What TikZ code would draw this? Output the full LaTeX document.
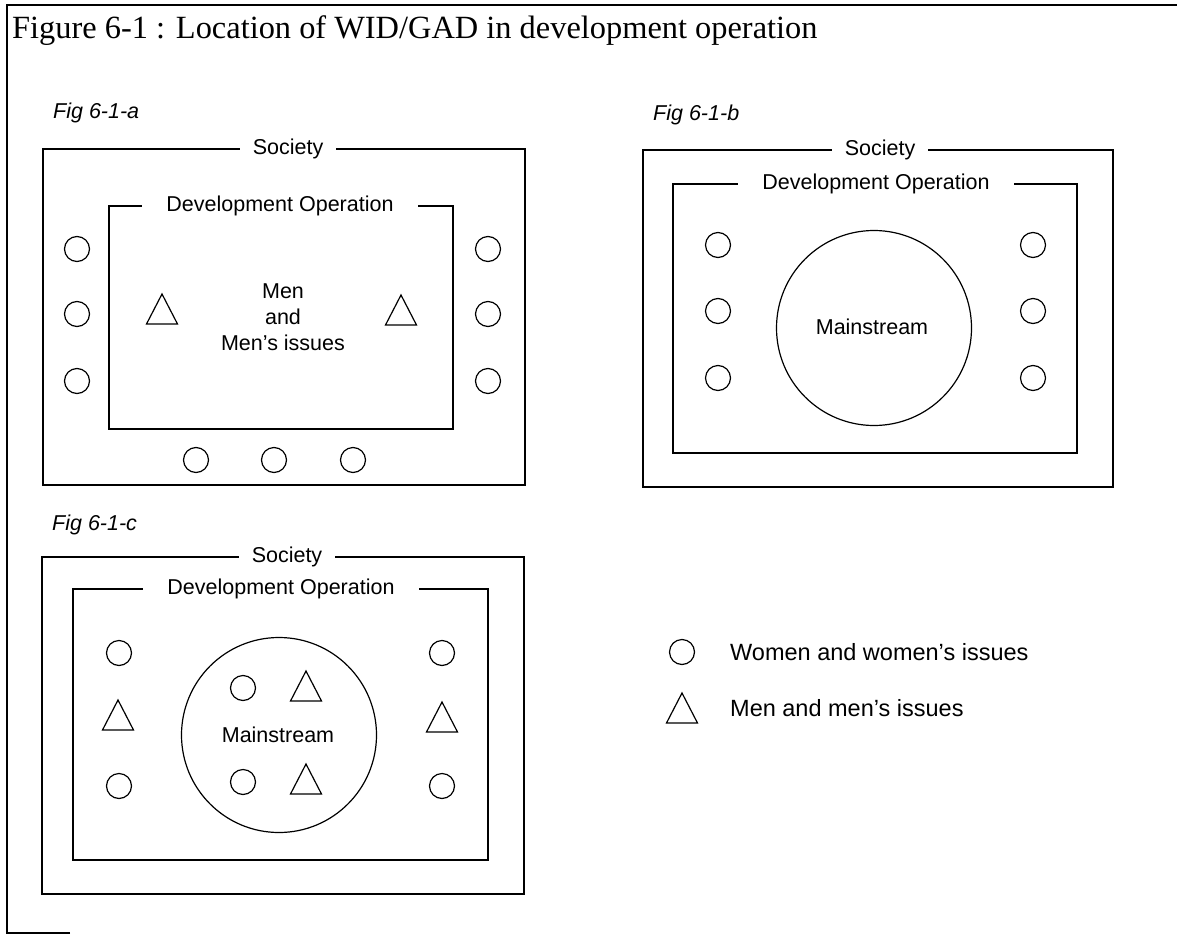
\documentclass[tikz,border=0pt]{standalone}
\usepackage{fontspec}
\setmainfont{Liberation Serif}
\setsansfont{Liberation Sans}
\begin{document}
\begin{tikzpicture}[x=1pt,y=-1pt,
  lbl/.style={font=\sffamily\fontsize{21.5}{26}\selectfont, inner sep=0pt},
  soc/.style={lbl, fill=white, inner xsep=13pt, inner ysep=3pt},
  dop/.style={lbl, fill=white, inner xsep=24pt, inner ysep=3pt},
  legtxt/.style={font=\sffamily\fontsize{23.5}{28}\selectfont, inner sep=0pt, anchor=west},
  box/.style={rectangle, draw, line width=1.3pt, inner sep=0pt},
  wom/.style={circle, draw, line width=1.2pt, minimum size=25pt, inner sep=0pt},
  big/.style={circle, draw, line width=1.2pt, minimum size=195pt, inner sep=0pt},
  figlbl/.style={font=\sffamily\itshape\fontsize{21.5}{26}\selectfont, anchor=west, inner sep=0pt},
  tri/.pic={\draw[line width=1.2pt, line join=miter] (0,-15) -- (15.5,15) -- (-15.5,15) -- cycle;}
]
\useasboundingbox (0,0) rectangle (1177,934);

% outer frame
\coordinate (ftr) at (1177,5);
\coordinate (ftl) at (7,5);
\coordinate (fbl) at (7,933);
\coordinate (fbr) at (70,933);
\draw[line width=2pt] (fbr) -- (fbl) -- (ftl) -- (ftr);

\node[anchor=base west, inner sep=0pt, font=\fontsize{32.4}{38}\selectfont] (title) at (12,38)
  {Figure 6-1 : Location of WID/GAD in development operation};

% ---------- Fig a ----------
\node[figlbl] (figa) at (53,113) {Fig 6-1-a};
\node[box, minimum width=482pt, minimum height=336pt] (socA) at (284,317) {};
\node[soc] (socAl) at (288,149) {Society};
\node[box, minimum width=344pt, minimum height=223pt] (doA) at (281,317.5) {};
\node[dop] (doAl) at (280,206) {Development Operation};
\foreach \y [count=\i] in {249,314,381}{
  \node[wom] (aL\i) at (77,\y) {};
  \node[wom] (aR\i) at (488,\y) {};
}
\foreach \x [count=\i] in {196,274,353}{
  \node[wom] (aB\i) at (\x,460) {};
}
\pic (aT1) at (162,309) {tri};
\pic (aT2) at (401,310) {tri};
\node[lbl] (men1) at (283,291) {Men};
\node[lbl] (men2) at (283,317) {and};
\node[lbl] (men3) at (283,343) {Men's issues};

% ---------- Fig b ----------
\node[figlbl] (figb) at (653,115) {Fig 6-1-b};
\node[box, minimum width=470pt, minimum height=337pt] (socB) at (878,318.5) {};
\node[soc] (socBl) at (880,150) {Society};
\node[box, minimum width=404pt, minimum height=269pt] (doB) at (875,318.5) {};
\node[dop] (doBl) at (876,184) {Development Operation};
\node[big] (mainB) at (874,328) {};
\node[lbl] (mainBl) at (872,327) {Mainstream};
\foreach \y [count=\i] in {245,311,378}{
  \node[wom] (bL\i) at (718,\y) {};
  \node[wom] (bR\i) at (1033,\y) {};
}

% ---------- Fig c ----------
\node[figlbl] (figc) at (52,525) {Fig 6-1-c};
\node[box, minimum width=482pt, minimum height=337pt] (socC) at (283,725.5) {};
\node[soc] (socCl) at (287,557) {Society};
\node[box, minimum width=415pt, minimum height=271pt] (doC) at (280.5,724.5) {};
\node[dop] (doCl) at (281,589) {Development Operation};
\node[big] (mainC) at (279,735) {};
\node[lbl] (mainCl) at (278,735) {Mainstream};
\node[wom] (cL1) at (119,653) {};
\node[wom] (cL2) at (119,786) {};
\node[wom] (cR1) at (442,653) {};
\node[wom] (cR2) at (442,786) {};
\node[wom] (cI1) at (243,688) {};
\node[wom] (cI2) at (243,782) {};
\pic (cTL) at (118,715) {tri};
\pic (cTR) at (442,717) {tri};
\pic (cTI1) at (306,686) {tri};
\pic (cTI2) at (306,779) {tri};

% ---------- Legend ----------
\node[wom] (legC) at (682,652) {};
\node[legtxt] (legCt) at (730,652) {Women and women's issues};
\pic (legT) at (682,708) {tri};
\node[legtxt] (legTt) at (730,708) {Men and men's issues};
\end{tikzpicture}
\end{document}
